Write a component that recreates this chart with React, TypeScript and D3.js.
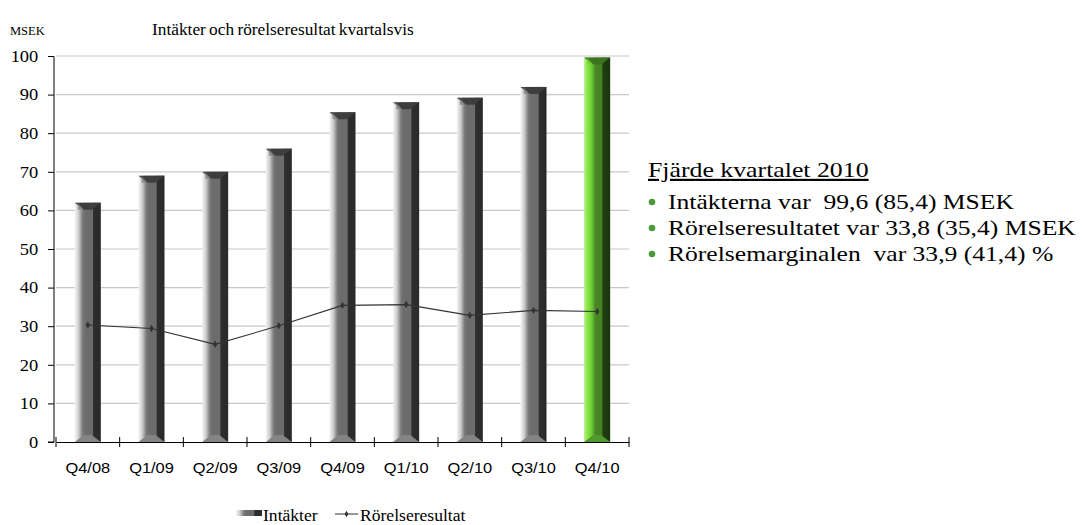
import * as d3 from "d3";
import { useEffect, useRef } from "react";

const quarters = ["Q4/08", "Q1/09", "Q2/09", "Q3/09", "Q4/09", "Q1/10", "Q2/10", "Q3/10", "Q4/10"];
const intakter = [62, 69, 70, 76, 85.4, 88, 89.2, 92, 99.6];
const rorelseresultat = [30.3, 29.4, 25.3, 30.1, 35.4, 35.6, 32.8, 34.1, 33.8];
const yTicks = [0, 10, 20, 30, 40, 50, 60, 70, 80, 90, 100];
const bulletLines = [
  "Intäkterna var  99,6 (85,4) MSEK",
  "Rörelseresultatet var 33,8 (35,4) MSEK",
  "Rörelsemarginalen  var 33,9 (41,4) %",
];

const serif = "'Liberation Serif', 'Times New Roman', serif";
const sans = "'Liberation Sans', Arial, sans-serif";

const App = () => {
  const ref = useRef<SVGSVGElement | null>(null);

  useEffect(() => {
    const svg = d3.select(ref.current);
    svg.selectAll("*").remove();

    const left = 56;
    const right = 629;
    const top = 56;
    const bottom = 442;

    const x = d3.scaleBand().domain(quarters).range([left, right]).padding(0);
    const y = d3.scaleLinear().domain([0, 100]).range([bottom, top]);

    // stretched text helper (reference text is a bit wide)
    const label = (g, tx, ty, str, size, family, sx = 1.15) =>
      g
        .append("text")
        .attr("transform", `translate(${tx},${ty}) scale(${sx},1)`)
        .attr("font-family", family)
        .attr("font-size", size)
        .attr("xml:space", "preserve")
        .style("white-space", "pre")
        .text(str);

    const defs = svg.append("defs");
    const grad = (id, stops) => {
      const g = defs.append("linearGradient").attr("id", id).attr("x1", "0").attr("x2", "1").attr("y1", "0").attr("y2", "0");
      stops.forEach(([o, c]) => g.append("stop").attr("offset", o).attr("stop-color", c));
    };
    grad("gray", [
      ["0%", "#f4f4f4"],
      ["14%", "#cfcfcf"],
      ["30%", "#7a7a7a"],
      ["40%", "#6c6c6c"],
      ["68%", "#6c6c6c"],
      ["72%", "#2e2e2e"],
      ["100%", "#2a2a2a"],
    ]);
    grad("green", [
      ["0%", "#aef07a"],
      ["12%", "#8ee84c"],
      ["30%", "#6cc832"],
      ["42%", "#4a8a26"],
      ["68%", "#457f22"],
      ["72%", "#1f3d10"],
      ["100%", "#1b350e"],
    ]);

    // title
    label(svg, 10, 35, "MSEK", 12.5, serif, 1.0);
    label(svg, 152, 35, "Intäkter och rörelseresultat kvartalsvis", 16.5, serif, 1.05).attr("word-spacing", -1);

    // grid
    svg
      .append("g")
      .selectAll("line")
      .data(yTicks.filter((d) => d > 0))
      .enter()
      .append("line")
      .attr("x1", left)
      .attr("x2", right)
      .attr("y1", (d) => y(d))
      .attr("y2", (d) => y(d))
      .attr("stroke", "#c8c8c8")
      .attr("stroke-width", 1.2);

    // y axis
    const yAxis = svg
      .append("g")
      .attr("transform", `translate(${left - 2},0)`)
      .call(d3.axisLeft(y).tickValues(yTicks).tickSize(6).tickPadding(8));
    yAxis.select(".domain").attr("stroke", "#000").attr("d", `M-6,${top + 0.5}H0V${bottom}H-6`);
    yAxis
      .selectAll("text")
      .attr("font-family", serif)
      .attr("font-size", 16.5)
      .attr("fill", "#000")
      .attr("transform", "scale(1.12,1)");
    yAxis.selectAll("line").attr("stroke", "#000");

    // bars
    const bw = 26;
    const cap = 7;
    const barG = svg.append("g");
    quarters.forEach((q, i) => {
      const cx = x(q) + x.bandwidth() / 2;
      const x0 = cx - bw / 2;
      const x1 = cx + bw / 2;
      const yt = y(intakter[i]);
      const isLast = i === quarters.length - 1;
      barG
        .append("rect")
        .attr("x", x0)
        .attr("y", yt)
        .attr("width", bw)
        .attr("height", bottom - yt)
        .attr("fill", `url(#${isLast ? "green" : "gray"})`);
      barG
        .append("polygon")
        .attr("points", `${x0},${yt} ${x1},${yt} ${cx + 4},${yt + cap} ${cx - 4},${yt + cap}`)
        .attr("fill", isLast ? "#3c7420" : "#3e3e3e");
      barG
        .append("polygon")
        .attr("points", `${x0 + 3},${yt} ${cx - 4},${yt + cap} ${x0 + 3},${yt + cap}`)
        .attr("fill", isLast ? "#6cc832" : "#7e7e7e")
        .attr("opacity", 0.7);
      barG
        .append("polygon")
        .attr("points", `${x0},${bottom} ${x1},${bottom} ${cx + 4},${bottom - cap} ${cx - 4},${bottom - cap}`)
        .attr("fill", isLast ? "#4f9a2a" : "#848484");
    });

    // x axis
    const xAxis = svg
      .append("g")
      .attr("transform", `translate(0,${bottom})`)
      .call(d3.axisBottom(x).tickSize(0).tickPadding(20));
    xAxis.select(".domain").attr("stroke", "#000");
    xAxis
      .selectAll("text")
      .attr("font-family", sans)
      .attr("font-size", 15.5)
      .attr("fill", "#000")
      .attr("y", 20)
      .attr("dy", "0.71em")
      .attr("transform", "scale(1.06,1)");
    svg
      .append("g")
      .selectAll("line")
      .data(d3.range(quarters.length + 1))
      .enter()
      .append("line")
      .attr("x1", (d) => left + d * x.bandwidth())
      .attr("x2", (d) => left + d * x.bandwidth())
      .attr("y1", bottom - 5)
      .attr("y2", bottom + 5)
      .attr("stroke", "#000");

    // line series
    const line = d3
      .line<number>()
      .x((_, i) => x(quarters[i]) + x.bandwidth() / 2)
      .y((d) => y(d));
    svg.append("path").datum(rorelseresultat).attr("d", line).attr("fill", "none").attr("stroke", "#333").attr("stroke-width", 1.1);
    svg
      .append("g")
      .selectAll("path")
      .data(rorelseresultat)
      .enter()
      .append("path")
      .attr("d", d3.symbol(d3.symbolDiamond, 16))
      .attr("transform", (d, i) => `translate(${x(quarters[i]) + x.bandwidth() / 2},${y(d)})`)
      .attr("fill", "#333");

    // legend
    const lg = svg.append("g").attr("transform", "translate(0,516)");
    lg.append("rect").attr("x", 236).attr("y", -6).attr("width", 26).attr("height", 6).attr("fill", "url(#gray)");
    lg.append("polygon").attr("points", "257,-6 262,-6 262,0 257,0 260,-3").attr("fill", "#2e2e2e");
    label(lg, 263, 5, "Intäkter", 16, serif, 1.1);
    lg.append("line").attr("x1", 335).attr("x2", 358).attr("y1", -2).attr("y2", -2).attr("stroke", "#333");
    lg.append("path").attr("d", d3.symbol(d3.symbolDiamond, 12)).attr("transform", "translate(346.5,-2)").attr("fill", "#333");
    label(lg, 360, 5, "Rörelseresultat", 16, serif, 1.1);

    // right text
    label(svg, 648, 177, "Fjärde kvartalet 2010", 21.5, serif, 1.2).attr("text-decoration", "underline");
    bulletLines.forEach((t, i) => {
      const by = 209 + i * 26;
      svg.append("circle").attr("cx", 652).attr("cy", by - 7).attr("r", 3.3).attr("fill", "#4a9a3a");
      label(svg, 668, by, t, 21.5, serif, 1.19);
    });
  }, []);

  return (
    <div style={{ position: "absolute", left: 0, top: 0 }}>
      <svg ref={ref} width={1082} height={525} style={{ display: "block", background: "#fff" }} />
    </div>
  );
};

export default App;
